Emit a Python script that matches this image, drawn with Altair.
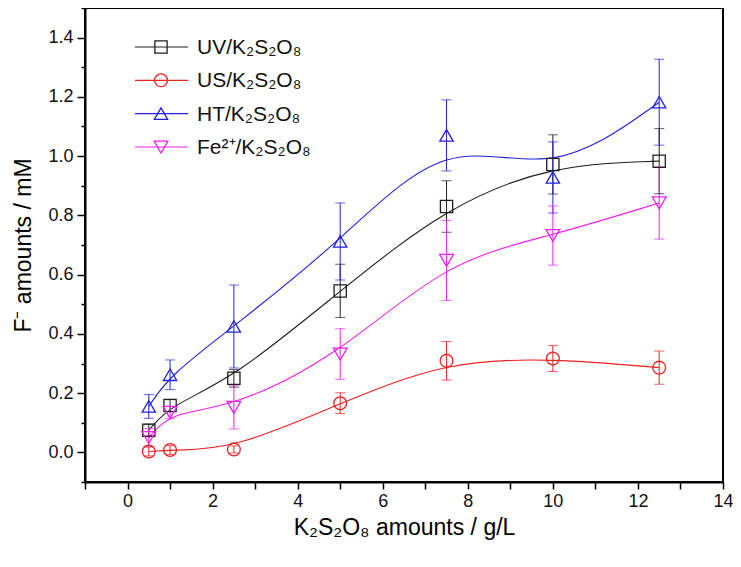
import altair as alt
import pandas as pd

# ---- data ----
x_vals = [0.5, 1, 2.5, 5, 7.5, 10, 12.5]
series_names = ["UV/K₂S₂O₈", "US/K₂S₂O₈", "HT/K₂S₂O₈", "Fe²⁺/K₂S₂O₈"]

uv = [0.075, 0.158, 0.25, 0.545, 0.83, 0.972, 0.983]
uv_err = [0.02, 0.02, 0.03, 0.09, 0.087, 0.10, 0.11]

us = [0.003, 0.008, 0.01, 0.166, 0.309, 0.317, 0.286]
us_err = [0.015, 0.015, 0.012, 0.035, 0.065, 0.044, 0.056]

ht = [0.155, 0.262, 0.425, 0.712, 1.07, 0.928, 1.182]
ht_err = [0.04, 0.05, 0.14, 0.13, 0.12, 0.12, 0.145]

fe = [0.05, 0.135, 0.152, 0.332, 0.648, 0.732, 0.842]
fe_err = [0.03, 0.02, 0.073, 0.085, 0.135, 0.10, 0.122]

colors = ["#1e1e1e", "#ee2020", "#2020dd", "#ee20ee"]
shapes = ["square", "circle", "triangle-up", "triangle-down"]
sizes = [150, 190, 250, 250]

x_ticks = list(range(-1, 15))
y_major = [round(0.2 * i, 1) for i in range(8)]
y_minor = [round(-0.1 + 0.2 * i, 1) for i in range(9)]

rows = []
for name, ys, es in zip(series_names, [uv, us, ht, fe], [uv_err, us_err, ht_err, fe_err]):
    for xv, yv, ev in zip(x_vals, ys, es):
        rows.append({"series": name, "x": xv, "y": yv, "lo": yv - ev, "hi": yv + ev})
df = pd.DataFrame(rows)

legend_df = pd.DataFrame({"series": series_names, "row": list(range(len(series_names)))})

FONT = "Liberation Sans"

xscale = alt.Scale(domain=[-1, 14], nice=False, zero=False)
yscale = alt.Scale(domain=[-0.1, 1.5], nice=False, zero=False)
color = alt.Color("series:N", scale=alt.Scale(domain=series_names, range=colors), legend=None)
shape = alt.Shape("series:N", scale=alt.Scale(domain=series_names, range=shapes), legend=None)
size = alt.Size("series:N", scale=alt.Scale(domain=series_names, range=sizes), legend=None)

x_axis = alt.Axis(
    values=x_ticks,
    labelExpr="datum.value >= 0 && datum.value % 2 == 0 ? datum.label : ''",
    format="d",
    title="K₂S₂O₈ amounts / g/L",
    titleFontSize=23, titleFontWeight="normal", titleFont=FONT, titlePadding=6,
    labelFontSize=18, labelFont=FONT, labelPadding=3, labelColor="#111",
    labelOverlap=False, labelBound=False, labelFlush=False,
    tickSize=7, tickWidth=1.5, tickColor="black",
    domainColor="black", domainWidth=2, grid=False,
)
y_axis = alt.Axis(
    orient="left",
    values=y_major,
    format=".1f",
    title="F⁻ amounts / mM",
    titleFontSize=23, titleFontWeight="normal", titleFont=FONT, titlePadding=12,
    labelFontSize=18, labelFont=FONT, labelPadding=4, labelColor="#111",
    labelOverlap=False, labelBound=False, labelFlush=False,
    tickSize=8, tickWidth=1.5, tickColor="black",
    domainColor="black", domainWidth=2, grid=False,
)
y_axis_minor = alt.Axis(
    orient="left",
    values=y_minor,
    labels=False, title=None, domain=False,
    tickSize=4, tickWidth=1.5, tickColor="black", grid=False,
)

base = alt.Chart(df)
X = alt.X("x:Q", scale=xscale, axis=x_axis)

lines = base.mark_line(interpolate="basis", strokeWidth=1.1).encode(
    x=X, y=alt.Y("y:Q", scale=yscale, axis=y_axis), color=color, detail="series:N"
)
bars = base.mark_rule(strokeWidth=1).encode(
    x="x:Q", y=alt.Y("lo:Q", scale=yscale, axis=None), y2="hi:Q", color=color
)
cap_lo = base.mark_tick(orient="horizontal", size=10, thickness=1).encode(
    x="x:Q", y=alt.Y("lo:Q", scale=yscale, axis=None), color=color
)
cap_hi = base.mark_tick(orient="horizontal", size=10, thickness=1).encode(
    x="x:Q", y=alt.Y("hi:Q", scale=yscale, axis=None), color=color
)
points = base.mark_point(filled=False, strokeWidth=1.3, opacity=1).encode(
    x=X, y=alt.Y("y:Q", scale=yscale, axis=y_axis_minor), color=color, shape=shape, size=size
)

data_layer = alt.layer(lines, bars, cap_lo, cap_hi, points).resolve_axis(y="independent")

lbase = alt.Chart(legend_df)
LY = alt.Y("row:O", scale=alt.Scale(type="point", range=[39, 139], padding=0), axis=None)
leg_line = lbase.mark_rule(strokeWidth=1.1).encode(
    x=alt.value(50), x2=alt.value(103), y=LY, color=color
)
leg_pt = lbase.mark_point(filled=False, strokeWidth=1.3, opacity=1).encode(
    x=alt.value(76), y=LY, color=color, shape=shape, size=size
)
leg_txt = lbase.mark_text(align="left", baseline="middle", fontSize=21, font=FONT, color="#111", dy=1).encode(
    x=alt.value(112), y=LY, text="series:N"
)
legend_layer = alt.layer(leg_line, leg_pt, leg_txt)

chart = alt.layer(data_layer, legend_layer).resolve_scale(
    y="independent", color="shared", shape="shared", size="shared"
).properties(
    width=638, height=474,
    padding={"left": 77, "top": 0, "right": 10, "bottom": 70},
    autosize=alt.AutoSizeParams(type="none"),
    background="white",
).configure_view(stroke="black", strokeWidth=2)

chart.save("out.html", embed_options={"renderer": "svg", "actions": False})
